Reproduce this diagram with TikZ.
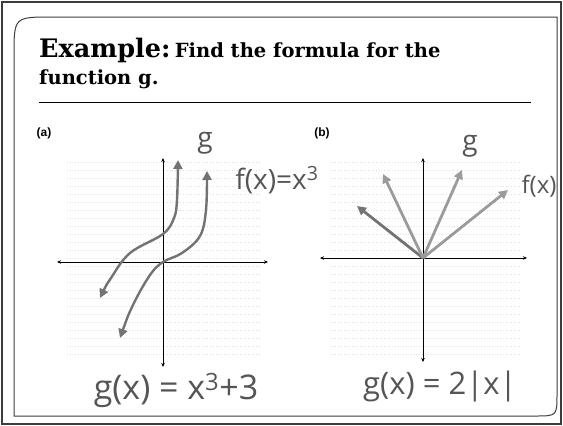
\documentclass[tikz,border=0pt]{standalone}
\usepackage{fontspec}
\usetikzlibrary{
  arrows.meta,
  positioning,
  calc
}
\newfontfamily\slabfont{DejaVu Serif}
\newfontfamily\handfont{Open Sans}
\newfontfamily\labelfont{Liberation Sans}
\definecolor{framegray}{RGB}{60,60,60}
\definecolor{pencildark}{RGB}{85,85,85}
\definecolor{pencilmid}{RGB}{115,115,115}
\definecolor{pencillight}{RGB}{155,155,155}
\definecolor{gridgray}{RGB}{225,222,225}
\tikzset{
  titlebig/.style={
    font=\slabfont\bfseries\fontsize{25.5}{28}\selectfont,
    inner sep=0pt, anchor=base west
  },
  titlesmall/.style={
    font=\slabfont\bfseries\fontsize{19.5}{22}\selectfont,
    inner sep=0pt, anchor=base west
  },
  panellabel/.style={
    font=\labelfont\bfseries\fontsize{12}{14}\selectfont, inner sep=1pt
  },
  handlabel/.style={
    font=\handfont\fontsize{28}{30}\selectfont,
    text=pencildark, inner sep=0pt
  },
  handformula/.style={
    font=\handfont\fontsize{34}{36}\selectfont,
    text=pencildark, inner sep=0pt
  },
  axisline/.style={
    {Stealth[length=4pt,width=3.5pt]}-{Stealth[length=4pt,width=3.5pt]},
    draw=black, line width=0.9pt
  },
  curvearrow/.style={
    {Triangle[length=9pt,width=9pt]}-{Triangle[length=9pt,width=9pt]},
    draw=pencilmid, line width=2.4pt
  },
  rayarrow/.style={
    -{Triangle[length=9pt,width=9pt]},
    line width=2.8pt
  },
  gridline/.style={draw=gridgray, line width=0.7pt, dotted},
}

\begin{document}
\begin{tikzpicture}[x=1pt, y=-1pt]

  %% Frame
  \useasboundingbox (0,0) rectangle (563,426);
  \draw[draw=framegray, line width=1.3pt] (2,2) rectangle (561,424);
  \draw[draw=framegray, line width=1pt]
    (14,416) -- (14,56) .. controls (14,17) .. (52,17) -- (557,17)
    -- (557,394) .. controls (557,416) .. (535,416) -- cycle;

  %% Title
  \node[titlebig] (ex) at (39,57) {Example:};
  \node[titlesmall, right=4pt of ex.base east, anchor=base west] (find)
    {Find the formula for the};
  \node[titlesmall] (fung) at (39,84) {function g.};
  \draw[line width=1pt] (39,102) -- (531,102);

  %% Panel (a)
  \node[panellabel] (la) at (44,133) {(a)};
  \foreach \y in {162,170,...,358} \draw[gridline] (67,\y) -- (260,\y);
  \coordinate (axl) at (57,262);
  \coordinate (axr) at (268,262);
  \coordinate (ayt) at (163,158);
  \coordinate (ayb) at (163,367);
  \draw[axisline] (axl) -- (axr);
  \draw[axisline] (ayt) -- (ayb);

  %% g(x) = x^3 + 3
  \draw[curvearrow] plot[smooth, tension=0.6] coordinates
    {(100,298) (111,278) (130,253) (163,234) (174,218) (177,200) (178,160)};
  %% f(x) = x^3
  \draw[curvearrow] plot[smooth, tension=0.6] coordinates
    {(120,338) (133,305) (150,275) (163,262) (182,253) (200,236) (206,210) (207,171)};

  \node[handlabel] (ga) at (205,143) {g};
  \node[handlabel] (fa) at (277,180) {f(x)=x\textsuperscript{3}};
  \node[handformula] (gfa) at (176,390) {g(x) = x\textsuperscript{3}+3};

  %% Panel (b)
  \node[panellabel] (lb) at (322,133) {(b)};
  \foreach \y in {162,170,...,358} \draw[gridline] (330,\y) -- (520,\y);
  \coordinate (bxl) at (320,258);
  \coordinate (bxr) at (527,258);
  \coordinate (byt) at (423,158);
  \coordinate (byb) at (423,362);
  \draw[axisline] (bxl) -- (bxr);
  \draw[axisline] (byt) -- (byb);

  \coordinate (o) at (423,258);
  %% f(x) = |x|
  \draw[rayarrow, draw=pencilmid] (o) -- (357,206);
  \draw[rayarrow, draw=pencillight] (o) -- (508,190);
  %% g(x) = 2|x|
  \draw[rayarrow, draw=pencillight] (o) -- (383,174);
  \draw[rayarrow, draw=pencillight] (o) -- (462,170);

  \node[handlabel] (gb) at (470,146) {g};
  \node[handlabel, font=\handfont\fontsize{24}{26}\selectfont] (fb) at (539,186) {f(x)};
  \node[handformula, font=\handfont\fontsize{31}{33}\selectfont] (gfb) at (440,386) {g(x) = 2|x|};

\end{tikzpicture}
\end{document}
